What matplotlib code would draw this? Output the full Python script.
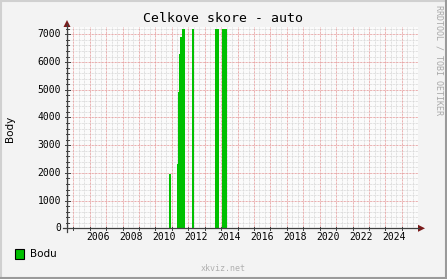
import matplotlib
matplotlib.use("Agg")
import matplotlib.pyplot as plt
from matplotlib.lines import Line2D
from matplotlib.patches import Polygon, Rectangle
import numpy as np

# ---- data (fractional years) ----
bar_start = [2010.835, 2011.300, 2011.366, 2011.450, 2011.510, 2011.600, 2012.240, 2013.640, 2014.070]
bar_end   = [2010.976, 2011.366, 2011.450, 2011.510, 2011.600, 2011.830, 2012.360, 2013.840, 2014.330]
bar_value = [1950, 2320, 4930, 6300, 6900, 7200, 7200, 7200, 7200]
label_years = [2006, 2008, 2010, 2012, 2014, 2016, 2018, 2020, 2022, 2024]
y_ticks = [0, 1000, 2000, 3000, 4000, 5000, 6000, 7000]
title = "Celkove skore - auto"
ylabel = "Body"
legend_label = "Bodu"

W, H = 447, 279
fig = plt.figure(figsize=(W / 100, H / 100), dpi=100)
fig.patch.set_facecolor("#f3f3f3")

def fx(x):
    return x / W

def fy(y):
    return 1 - y / H

left, right, top, bottom = 67, 418, 27, 228.3
ax = fig.add_axes([fx(left), fy(bottom), fx(right) - fx(left), fy(top) - fy(bottom)])
ax.set_facecolor("#fbfbfb")
xmin, xmax = 2004.62, 2025.98
ymax = 7267
ax.set_xlim(xmin, xmax)
ax.set_ylim(0, ymax)
for s in ax.spines.values():
    s.set_visible(False)
ax.set_xticks([])
ax.set_yticks([])

dash = (0, (0.72, 0.72))
minor_c = "#d6d6d6"
major_c = "#e49494"
# minor grid
for yv in np.arange(0, ymax, 200):
    if yv % 1000:
        ax.axhline(yv, color=minor_c, lw=0.72, linestyle=dash, zorder=1)
for xv in np.arange(2004, 2027, 1 / 3):
    if abs(xv - round(xv)) > 1e-6 and xmin < xv < xmax:
        ax.axvline(xv, color=minor_c, lw=0.72, linestyle=dash, zorder=1)
# major grid
for yv in y_ticks[1:]:
    ax.axhline(yv, color=major_c, lw=0.72, linestyle=dash, zorder=2)
for xv in range(2005, 2026):
    ax.axvline(xv, color=major_c, lw=0.72, linestyle=dash, zorder=2)

widths = [e - s for s, e in zip(bar_start, bar_end)]
ax.bar(bar_start, bar_value, width=widths, align="edge", color="#00c000",
       linewidth=0, antialiased=False, zorder=3)

# axes lines & arrows (figure pixel coords)
axis_c = "#404040"
arrow_c = "#7a1a1a"
fig.add_artist(Line2D([fx(63), fx(419)], [fy(bottom), fy(bottom)], color=axis_c, lw=0.9))
fig.add_artist(Line2D([fx(left), fx(left)], [fy(232), fy(24)], color=axis_c, lw=0.9))
fig.add_artist(Polygon([[fx(418), fy(bottom - 3.5)], [fx(425), fy(bottom)], [fx(418), fy(bottom + 3.5)]],
                       closed=True, color=arrow_c, lw=0))
fig.add_artist(Polygon([[fx(left - 3.5), fy(27)], [fx(left), fy(20)], [fx(left + 3.5), fy(27)]],
                       closed=True, color=arrow_c, lw=0))

ax_h = bottom - top
def ypix(v):
    return bottom - v / ymax * ax_h

def xpix(v):
    return left + (v - xmin) / (xmax - xmin) * (right - left)

# y ticks
for v in np.arange(0, ymax, 200):
    p = ypix(v)
    ln = 2.5 if v % 1000 == 0 else 1.5
    fig.add_artist(Line2D([fx(left - ln), fx(left + ln)], [fy(p), fy(p)], color=axis_c, lw=0.7))
for v in y_ticks:
    fig.text(fx(61), fy(ypix(v)), str(v), ha="right", va="center",
             family="DejaVu Sans Mono", fontsize=7, color="#000000")
# x ticks
for xv in range(2005, 2026):
    p = xpix(xv)
    fig.add_artist(Line2D([fx(p), fx(p)], [fy(bottom - 1.5), fy(bottom + 2)], color=axis_c, lw=0.7))
for yv in label_years:
    fig.text(fx(xpix(yv + 0.5)), fy(237.5), str(yv), ha="center", va="center",
             family="DejaVu Sans Mono", fontsize=7, color="#000000")

fig.text(fx(223), fy(19), title, ha="center", va="center",
         family="DejaVu Sans Mono", fontsize=9.5, color="#000000")
fig.text(fx(10.5), fy(129), ylabel, ha="center", va="center", rotation=90,
         family="DejaVu Sans", fontsize=7.5, color="#000000")

# legend
fig.add_artist(Rectangle((fx(15), fy(258.5)), fx(24) - fx(15), fy(249) - fy(258.5),
                         facecolor="#00c000", edgecolor="#000000", lw=0.8))
fig.text(fx(30), fy(254), legend_label, ha="left", va="center",
         family="DejaVu Sans", fontsize=7.5, color="#000000")

fig.text(fx(223.5), fy(268.3), "xkviz.net", ha="center", va="center",
         family="DejaVu Sans Mono", fontsize=6, color="#b0b0b0")
fig.text(fx(438.5), fy(60), "RRDTOOL / TOBI OETIKER", ha="center", va="center", rotation=-90,
         family="DejaVu Sans Mono", fontsize=6, color="#a8a8a8")

# border
fig.add_artist(Line2D([fx(0.5), fx(0.5)], [fy(0), fy(H)], color="#d0d0d0", lw=1.5))
fig.add_artist(Line2D([fx(0), fx(W)], [fy(0.5), fy(0.5)], color="#d0d0d0", lw=1.5))
fig.add_artist(Line2D([fx(W - 1), fx(W - 1)], [fy(0), fy(H)], color="#9a9a9a", lw=1.5))
fig.add_artist(Line2D([fx(0), fx(W)], [fy(H - 1), fy(H - 1)], color="#9a9a9a", lw=1.5))

fig.savefig("out.png", dpi=100, facecolor=fig.get_facecolor())
